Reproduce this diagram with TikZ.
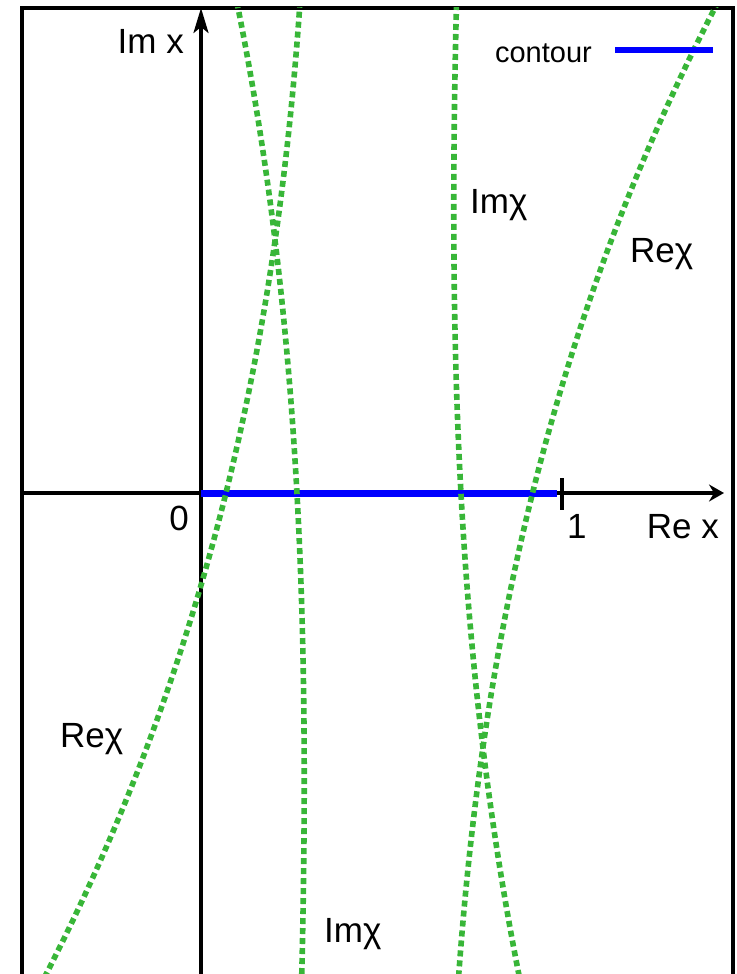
\documentclass[tikz,border=0pt]{standalone}
\usepackage{fontspec}
\setmainfont{Liberation Sans}
\usetikzlibrary{arrows.meta}
\definecolor{curvegreen}{RGB}{56,182,56}
\begin{document}
\begin{tikzpicture}[x=1pt,y=-1pt,
  frameline/.style={line width=3.2pt, black},
  axisline/.style={line width=3.3pt, black},
  contourline/.style={line width=7pt, blue},
  curveline/.style={line width=5.6pt, curvegreen, dash pattern=on 6pt off 4pt},
  lbl/.style={font=\fontsize{35}{40}\selectfont, inner sep=0pt},
  lgd/.style={font=\fontsize{29}{34}\selectfont, inner sep=0pt}]
\useasboundingbox (0,0) rectangle (736,974);
% frame
\coordinate (fbl) at (22,990);
\coordinate (ftl) at (22,8);
\coordinate (ftr) at (733,8);
\coordinate (fbr) at (733,990);
\draw[frameline] (fbl) -- (ftl) -- (ftr) -- (fbr);
% axes
\coordinate (xs) at (22,493);
\coordinate (xe) at (724,493);
\coordinate (ys) at (201,990);
\coordinate (ye) at (201,8);
\coordinate (o) at (201,493);
\coordinate (c1) at (557,493);
\coordinate (t1) at (562,478);
\coordinate (t2) at (562,510);
\draw[axisline, -{Stealth[length=15pt,width=17pt,inset=5pt]}] (xs) -- (xe);
\draw[axisline, -{Stealth[length=25pt,width=15pt,inset=6pt]}] (ys) -- (ye);
\draw[axisline] (t1) -- (t2);
% contour
\draw[contourline] (o) -- (c1);
% curves (w = height above centre / 100)
\begin{scope}
\clip (22,8) rectangle (733,974);
\draw[curveline] plot[domain=-5.1:5.1, samples=120, variable=\w]
  ({379 + (-153.3 + 24.9*\w - 2.3*\w*\w + 0.063*\w*\w*\w)}, {494 - 100*\w});
\draw[curveline] plot[domain=-5.1:5.1, samples=120, variable=\w]
  ({379 - (-153.3 + 24.9*\w - 2.3*\w*\w + 0.063*\w*\w*\w)}, {494 + 100*\w});
\draw[curveline] plot[domain=-5.1:5.1, samples=120, variable=\w]
  ({379 + (-82 - 5.43*\w - 1.15*\w*\w - 0.047*\w*\w*\w)}, {494 - 100*\w});
\draw[curveline] plot[domain=-5.1:5.1, samples=120, variable=\w]
  ({379 - (-82 - 5.43*\w - 1.15*\w*\w - 0.047*\w*\w*\w)}, {494 + 100*\w});
\end{scope}
% legend
\node[lgd, anchor=base east] (lgtext) at (592,63) {contour};
\coordinate (lg1) at (615,50);
\coordinate (lg2) at (713,50);
\draw[line width=6pt, blue] (lg1) -- (lg2);
% labels
\node[lbl, anchor=base east] (imx) at (184,53) {Im x};
\node[lbl, anchor=base east] (zero) at (189,530) {0};
\node[lbl, anchor=base west] (one) at (567,538) {1};
\node[lbl, anchor=base east] (rex) at (719,538) {Re x};
\node[lbl, anchor=base west] (imchiA) at (470,213) {Imχ};
\node[lbl, anchor=base west] (rechiA) at (630,262) {Reχ};
\node[lbl, anchor=base west] (rechiB) at (60,747) {Reχ};
\node[lbl, anchor=base west] (imchiB) at (324,942) {Imχ};
\end{tikzpicture}
\end{document}
